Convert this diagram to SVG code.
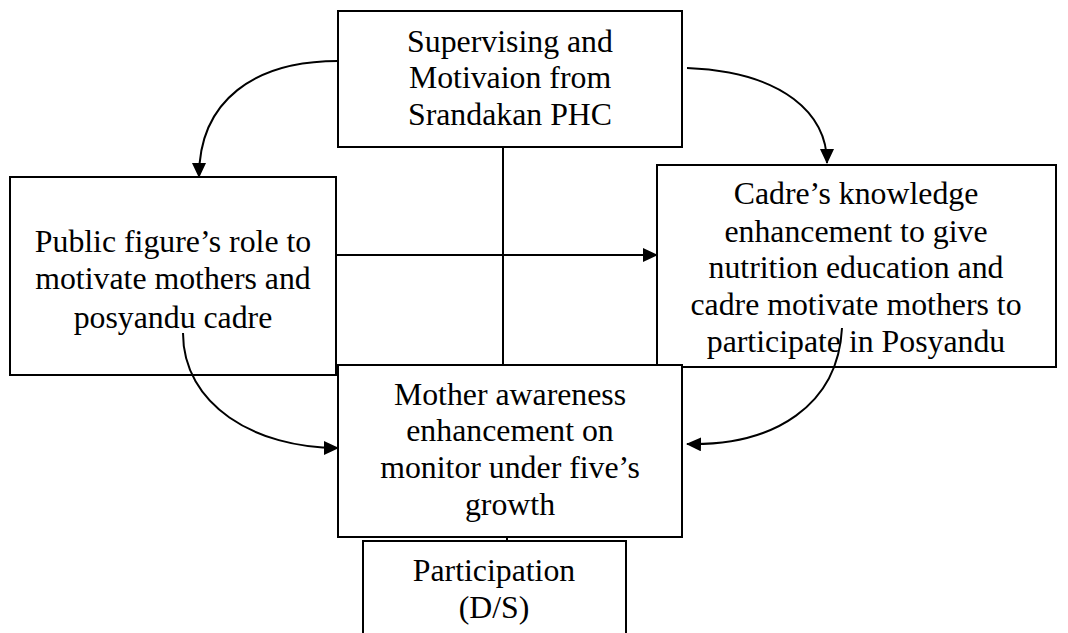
<svg xmlns="http://www.w3.org/2000/svg" width="1068" height="633" viewBox="0 0 1068 633">
<style>
.box{fill:#fff;stroke:#000;stroke-width:2}
.t{font-family:"Liberation Serif","Times New Roman",serif;font-size:31.8px;fill:#000;text-anchor:middle}
.c{fill:none;stroke:#000;stroke-width:2}
</style>
<defs>
<marker id="ah" markerWidth="15" markerHeight="14" refX="14" refY="7" orient="auto" markerUnits="userSpaceOnUse">
<path d="M0,0 L15,7 L0,14 Z" fill="#000"/>
</marker>
</defs>
<rect width="1068" height="633" fill="#fff"/>
<g id="n-top">
<rect class="box" x="338" y="11" width="344" height="136"/>
<text class="t" x="510" y="52">Supervising and</text>
<text class="t" x="510" y="88">Motivaion from</text>
<text class="t" x="510" y="125">Srandakan PHC</text>
</g>
<g id="n-left">
<rect class="box" x="10" y="177" width="326" height="198"/>
<text class="t" x="173" y="252">Public figure’s role to</text>
<text class="t" x="173" y="289">motivate mothers and</text>
<text class="t" x="173" y="328">posyandu cadre</text>
</g>
<g id="n-right">
<rect class="box" x="657" y="165" width="399" height="202"/>
<text class="t" x="856" y="204">Cadre’s knowledge</text>
<text class="t" x="856" y="242">enhancement to give</text>
<text class="t" x="856" y="278">nutrition education and</text>
<text class="t" x="856" y="315">cadre motivate mothers to</text>
<text class="t" x="856" y="352">participate in Posyandu</text>
</g>
<g id="n-mother">
<rect class="box" x="338" y="365" width="344" height="172"/>
<text class="t" x="510" y="405">Mother awareness</text>
<text class="t" x="510" y="441">enhancement on</text>
<text class="t" x="510" y="478">monitor under five’s</text>
<text class="t" x="510" y="515">growth</text>
</g>
<g id="n-part">
<rect class="box" x="363" y="541" width="263" height="100"/>
<text class="t" x="494" y="581">Participation</text>
<text class="t" x="494" y="618">(D/S)</text>
</g>
<g id="connectors">
<line class="c" x1="503" y1="147" x2="503" y2="365"/>
<line class="c" x1="336" y1="255" x2="657" y2="255" marker-end="url(#ah)"/>
<line class="c" x1="507" y1="537" x2="507" y2="541"/>
<path class="c" d="M338,61 C255,61 199,100 199,177" marker-end="url(#ah)"/>
<path class="c" d="M687,68 C785,72 827,115 827,163" marker-end="url(#ah)"/>
<path class="c" d="M183,333 C183,405 255,448 338,448" marker-end="url(#ah)"/>
<path class="c" d="M842,328 C838,405 775,446 687,444" marker-end="url(#ah)"/>
</g>
</svg>
